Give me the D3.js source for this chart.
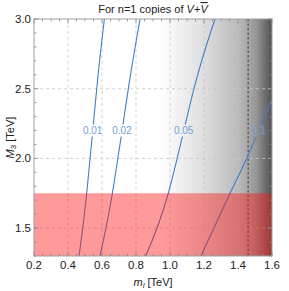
<!DOCTYPE html>
<meta charset="utf-8">
<script src="https://d3js.org/d3.v7.min.js"></script>
<style>
  body { margin: 0; background: #fff; }
  text { font-family: "Liberation Sans", Arial, sans-serif; }
</style>
<div id="chart"></div>
<script>
// contour levels and their (m_l, M3) points
var levels = ["0.01", "0.02", "0.05", "0.1"];
var contour001 = [[0.465, 1.3], [0.51, 1.75], [0.569, 2.5], [0.614, 3.0]];
var contour002 = [[0.588, 1.3], [0.661, 1.75], [0.755, 2.5], [0.824, 3.0]];
var contour005 = [[0.857, 1.3], [0.99, 1.75], [1.141, 2.5], [1.265, 3.0]];
var contour01  = [[1.182, 1.3], [1.353, 1.75], [1.451, 2.0], [1.6, 2.42]];
var labelM3 = 2.2;          // height of contour labels
var excludedM3 = 1.75;      // red band upper edge
var boundMl = 1.46;         // dotted vertical line
var xTicks = [0.2, 0.4, 0.6, 0.8, 1.0, 1.2, 1.4, 1.6];
var yTicks = [1.5, 2.0, 2.5, 3.0];

var margin = {top: 19, right: 17, bottom: 35, left: 34},
    width = 289 - margin.left - margin.right,
    height = 291 - margin.top - margin.bottom;

var svg = d3.select("#chart").append("svg")
    .attr("width", 289).attr("height", 291);
var g = svg.append("g").attr("transform", "translate(" + margin.left + "," + margin.top + ")");

var x = d3.scaleLinear().domain([0.2, 1.6]).range([0, width]);
var y = d3.scaleLinear().domain([1.3, 3.0]).range([height, 0]);

var defs = svg.append("defs");
defs.append("clipPath").attr("id", "clip")
  .append("rect").attr("width", width).attr("height", height);

// grey gradient towards large m_l
var grad = defs.append("linearGradient").attr("id", "grey")
  .attr("gradientUnits", "userSpaceOnUse")
  .attr("x1", 0).attr("x2", width).attr("y1", 0).attr("y2", 0);
[[0.2, "#ffffff"], [0.95, "#ffffff"], [1.2, "#dedede"], [1.4, "#bababa"],
 [1.5, "#9a9a9a"], [1.6, "#525252"]].forEach(function(s) {
  grad.append("stop").attr("offset", (x(s[0]) / width))
    .attr("stop-color", s[1]);
});

g.append("rect").attr("width", width).attr("height", height)
  .attr("fill", "url(#grey)");

// grid
var grid = g.append("g").attr("stroke", "#c8c8c8").attr("stroke-dasharray", "3,3")
  .attr("stroke-width", 0.8);
xTicks.slice(1, -1).forEach(function(t) {
  grid.append("line").attr("x1", x(t)).attr("x2", x(t)).attr("y1", 0).attr("y2", height);
});
yTicks.slice(0, -1).forEach(function(t) {
  grid.append("line").attr("y1", y(t)).attr("y2", y(t)).attr("x1", 0).attr("x2", width);
});

// dotted bound
g.append("line").attr("x1", x(boundMl)).attr("x2", x(boundMl))
  .attr("y1", 0).attr("y2", height)
  .attr("stroke", "#666").attr("stroke-width", 1.6).attr("stroke-dasharray", "2.5,2");

// contours with gaps for labels
var contours = [contour001, contour002, contour005, contour01];
var line = d3.line().x(function(d) { return x(d[0]); }).y(function(d) { return y(d[1]); })
  .curve(d3.curveNatural);

function mAt(pts, M) {
  for (var i = 0; i < pts.length - 1; i++) {
    if (M >= pts[i][1] && M <= pts[i + 1][1]) {
      var t = (M - pts[i][1]) / (pts[i + 1][1] - pts[i][1]);
      return pts[i][0] + t * (pts[i + 1][0] - pts[i][0]);
    }
  }
  return pts[pts.length - 1][0];
}

var mask = defs.append("mask").attr("id", "gaps");
mask.append("rect").attr("width", width).attr("height", height).attr("fill", "#fff");
contours.forEach(function(c, i) {
  var lx = x(mAt(c, labelM3)), ly = y(labelM3);
  var w = levels[i].length * 5.8 + 2;
  mask.append("rect").attr("x", lx - w / 2).attr("y", ly - 6)
    .attr("width", w).attr("height", 12).attr("fill", "#000");
});

var cg = g.append("g").attr("clip-path", "url(#clip)");
cg.append("g").attr("mask", "url(#gaps)")
  .selectAll("path").data(contours).enter().append("path")
  .attr("d", line).attr("fill", "none")
  .attr("stroke", "#3f7fc6").attr("stroke-width", 1.1);

g.selectAll(".clabel").data(contours).enter().append("text")
  .attr("x", function(d) { return x(mAt(d, labelM3)); })
  .attr("y", y(labelM3)).attr("dy", "0.35em")
  .attr("text-anchor", "middle").attr("font-size", "10px")
  .attr("fill", "#6f9fd3")
  .text(function(d, i) { return levels[i]; });

// excluded red band
g.append("rect").attr("x", 0).attr("width", width)
  .attr("y", y(excludedM3)).attr("height", height - y(excludedM3))
  .attr("fill", "rgba(255,20,20,0.43)");

// frame and ticks
g.append("rect").attr("width", width).attr("height", height)
  .attr("fill", "none").attr("stroke", "#a0a0a0").attr("stroke-width", 1);

var ticks = g.append("g").attr("stroke", "#8a8a8a").attr("stroke-width", 0.8);
d3.range(0.2, 1.6001, 0.05).forEach(function(t) {
  var major = Math.abs(Math.round(t * 5) - t * 5) < 1e-6;
  var L = major ? 4.5 : 2.5;
  ticks.append("line").attr("x1", x(t)).attr("x2", x(t)).attr("y1", height).attr("y2", height - L);
  ticks.append("line").attr("x1", x(t)).attr("x2", x(t)).attr("y1", 0).attr("y2", L);
});
d3.range(1.3, 3.0001, 0.1).forEach(function(t) {
  var major = Math.abs(Math.round(t * 2) - t * 2) < 1e-6;
  var L = major ? 4.5 : 2.5;
  ticks.append("line").attr("y1", y(t)).attr("y2", y(t)).attr("x1", 0).attr("x2", L);
  ticks.append("line").attr("y1", y(t)).attr("y2", y(t)).attr("x1", width).attr("x2", width - L);
});

// tick labels
g.selectAll(".xl").data(xTicks).enter().append("text")
  .attr("x", function(d) { return x(d); }).attr("y", height + 13)
  .attr("text-anchor", "middle").attr("font-size", "11.5px").attr("fill", "#222")
  .text(function(d) { return d.toFixed(1); });
g.selectAll(".yl").data(yTicks).enter().append("text")
  .attr("x", -3).attr("y", function(d) { return y(d); }).attr("dy", "0.35em")
  .attr("text-anchor", "end").attr("font-size", "11.5px").attr("fill", "#222")
  .text(function(d) { return d.toFixed(1); });

// axis labels
var xl = svg.append("text").attr("x", margin.left + width / 2).attr("y", 286)
  .attr("text-anchor", "middle").attr("font-size", "11px").attr("fill", "#222");
xl.append("tspan").attr("font-style", "italic").text("m");
xl.append("tspan").attr("font-style", "italic").attr("font-size", "8px").attr("dy", 2).text("l");
xl.append("tspan").attr("dy", -2).text(" [TeV]");

var yl = svg.append("text")
  .attr("transform", "translate(14," + (margin.top + height / 2) + ") rotate(-90)")
  .attr("text-anchor", "middle").attr("font-size", "11px").attr("fill", "#222");
yl.append("tspan").attr("font-style", "italic").text("M");
yl.append("tspan").attr("font-size", "8px").attr("dy", 2).text("3");
yl.append("tspan").attr("dy", -2).text(" [TeV]");

// title
var title = svg.append("text").attr("x", 153).attr("y", 13)
  .attr("text-anchor", "middle").attr("font-size", "11px").attr("fill", "#222");
title.append("tspan").text("For n=1 copies of ");
title.append("tspan").attr("font-style", "italic").text("V");
title.append("tspan").text("+");
title.append("tspan").attr("font-style", "italic").attr("text-decoration", "overline").text("V");
</script>
